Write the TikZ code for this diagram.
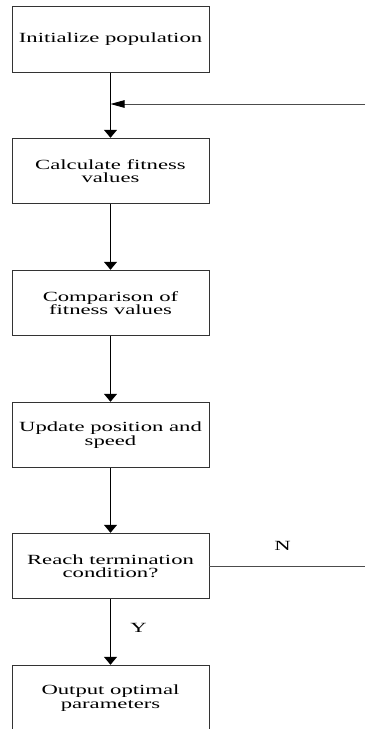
\documentclass[tikz,border=0pt]{standalone}
\usepackage{fontspec}
\setmainfont{Liberation Serif}[FakeStretch=1.62]
\usetikzlibrary{arrows.meta}
\tikzset{
  box/.style={draw=black!80, line width=0.9pt, minimum width=197pt, minimum height=65.5pt, inner sep=0pt, align=center, font=\fontsize{14}{13.3}\selectfont},
  flow/.style={draw=black, line width=1.3pt, -{Triangle[length=8pt,width=13pt]}},
  fb/.style={draw=black!70, line width=0.9pt},
  lab/.style={font=\fontsize{14}{13.3}\selectfont, inner sep=0pt}
}
\begin{document}
\begin{tikzpicture}[x=1pt,y=-1pt]
\useasboundingbox (0,0) rectangle (365,729);
\node[box] (b1) at (110.5,39.5) {Initialize population};
\node[box] (b2) at (110.5,171) {Calculate fitness\\values};
\node[box] (b3) at (110.5,303) {Comparison of\\fitness values};
\node[box] (b4) at (110.5,435) {Update position and\\speed};
\node[box] (b5) at (110.5,566) {Reach termination\\condition?};
\node[box] (b6) at (110.5,698) {Output optimal\\parameters};
\coordinate (fbR) at (365,104);
\coordinate (nR) at (365,566);
\draw[flow] (b1.south) -- (b2.north);
\draw[flow] (b2.south) -- (b3.north);
\draw[flow] (b3.south) -- (b4.north);
\draw[flow] (b4.south) -- (b5.north);
\draw[flow] (b5.south) -- (b6.north);
\draw[fb, -{Triangle[length=14pt,width=7.5pt,color=black,fill=black]}] (fbR) -- (fbR -| b1.south);
\draw[fb] (b5.east) -- (nR);
\node[lab] (N) at (282.5,546) {N};
\node[lab] (Y) at (138.5,628) {Y};
\end{tikzpicture}
\end{document}
